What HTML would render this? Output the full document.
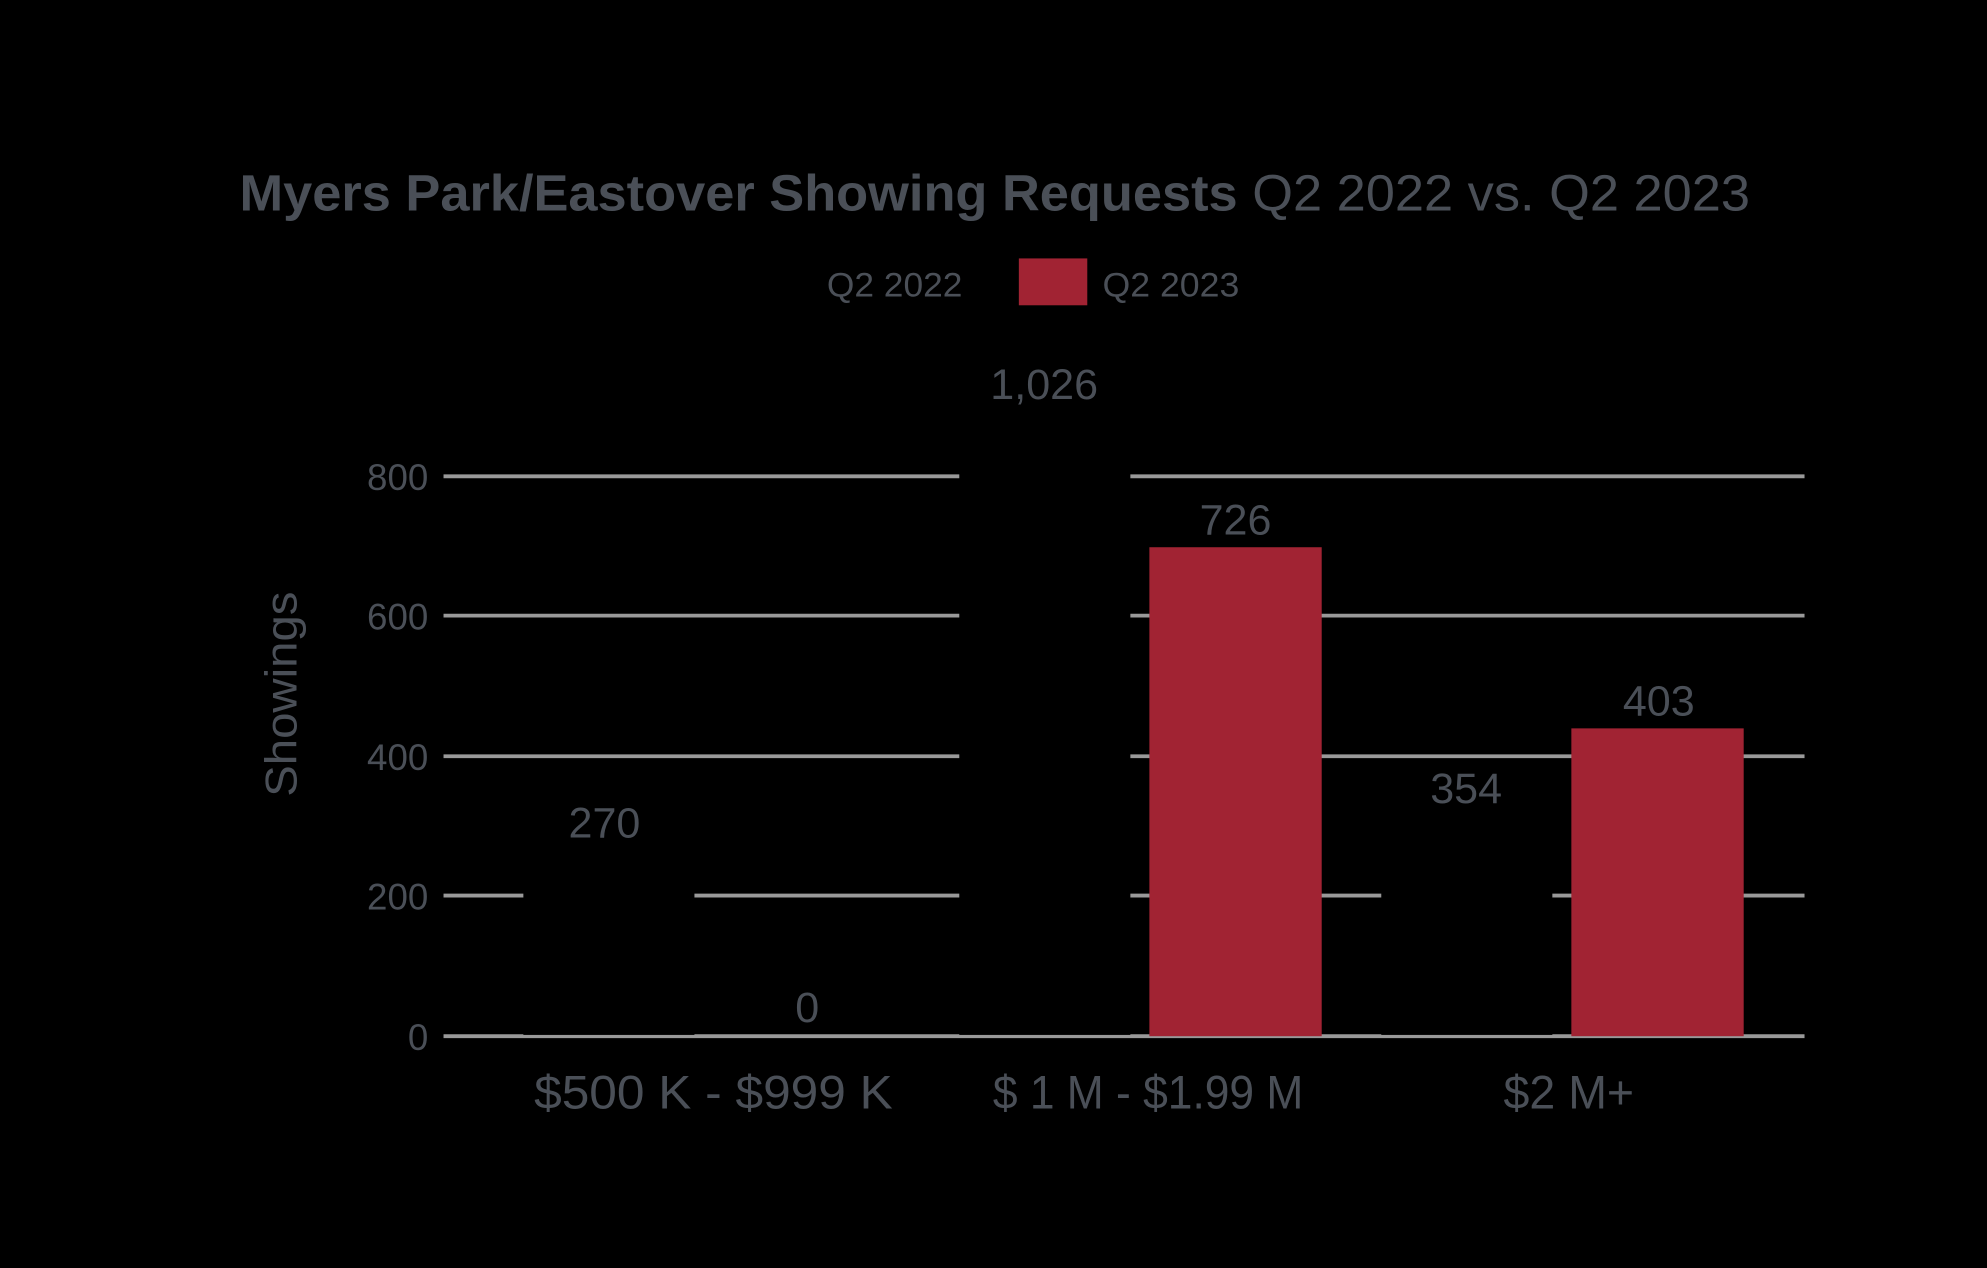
<!DOCTYPE html>
<html><head><style>
html,body{margin:0;padding:0;background:#000;}
svg{display:block;}
text{font-family:"Liberation Sans",sans-serif;fill:#4a4f57;}
</style></head><body>
<svg width="1987" height="1268" viewBox="0 0 1568 1001" preserveAspectRatio="none">
<rect width="1568" height="1001" fill="#000"/>
<text x="785" y="166" text-anchor="middle" font-size="40" font-weight="bold" textLength="1192" lengthAdjust="spacingAndGlyphs">Myers Park/Eastover Showing Requests <tspan font-weight="normal">Q2 2022 vs. Q2 2023</tspan></text>
<text x="706" y="234" text-anchor="middle" font-size="27" textLength="107" lengthAdjust="spacingAndGlyphs">Q2 2022</text>
<rect x="804" y="204" width="54" height="37" fill="#a12333"/>
<text x="924" y="234" text-anchor="middle" font-size="27" textLength="108" lengthAdjust="spacingAndGlyphs">Q2 2023</text>
<g stroke="#999" stroke-width="3">
<line x1="350" y1="376" x2="1424" y2="376"/>
<line x1="350" y1="486" x2="1424" y2="486"/>
<line x1="350" y1="597" x2="1424" y2="597"/>
<line x1="350" y1="707" x2="1424" y2="707"/>
<line x1="350" y1="818" x2="1424" y2="818"/>
</g>
<rect x="413" y="669" width="135" height="148" fill="#000"/>
<rect x="757" y="251" width="135" height="566" fill="#000"/>
<rect x="1090" y="622" width="135" height="195" fill="#000"/>
<rect x="907" y="432" width="136" height="386" fill="#a12333"/>
<rect x="1240" y="575" width="136" height="243" fill="#a12333"/>
<g font-size="29" text-anchor="end">
<text x="338" y="387">800</text><text x="338" y="497">600</text><text x="338" y="608">400</text><text x="338" y="718">200</text><text x="338" y="829">0</text>
</g>
<text transform="translate(234,548) rotate(-90)" text-anchor="middle" font-size="35" textLength="162" lengthAdjust="spacingAndGlyphs">Showings</text>
<g font-size="34" text-anchor="middle">
<text x="477" y="661">270</text><text x="637" y="807">0</text><text x="824" y="315">1,026</text>
<text x="975" y="422">726</text><text x="1157" y="634">354</text><text x="1309" y="565">403</text>
</g>
<g font-size="37" text-anchor="middle">
<text x="563" y="875" textLength="283" lengthAdjust="spacingAndGlyphs">$500 K - $999 K</text><text x="906" y="875" textLength="245" lengthAdjust="spacingAndGlyphs">$ 1 M - $1.99 M</text><text x="1238" y="875" textLength="103" lengthAdjust="spacingAndGlyphs">$2 M+</text>
</g>
</svg>
</body></html>
